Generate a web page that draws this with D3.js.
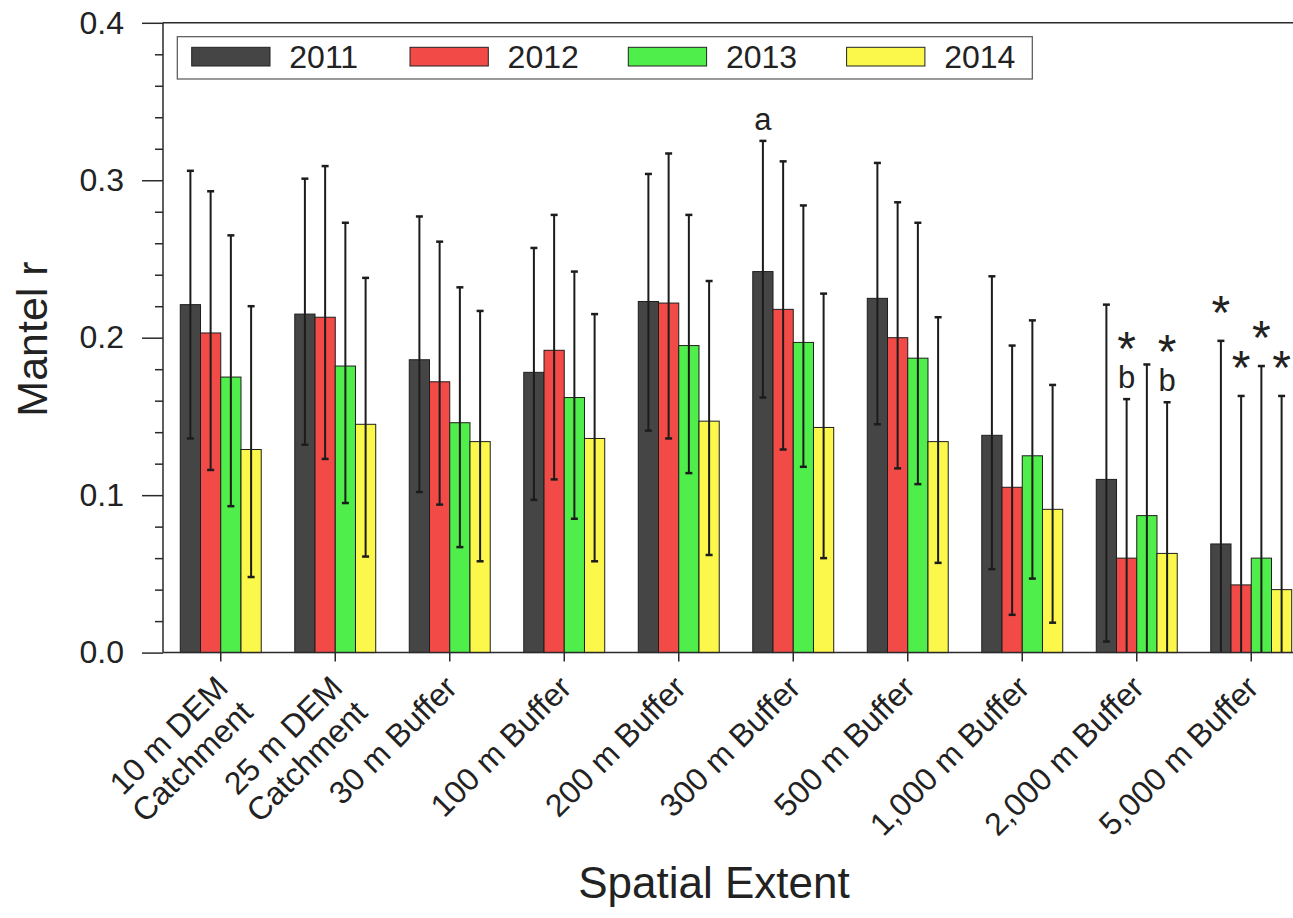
<!DOCTYPE html>
<html>
<head>
<meta charset="utf-8">
<script src="https://cdn.jsdelivr.net/npm/d3@7/dist/d3.min.js"></script>
<style>
  body { margin: 0; background: #fff; }
  svg { display: block; }
  text { font-family: "Liberation Sans", Arial, Helvetica, sans-serif; fill: #222; }
</style>
</head>
<body>
<svg id="chart" width="1293" height="918"></svg>
<script>
// Spatial extents on the x axis (line breaks split long labels)
const categories = [
  "10 m DEM\nCatchment", "25 m DEM\nCatchment", "30 m Buffer", "100 m Buffer",
  "200 m Buffer", "300 m Buffer", "500 m Buffer", "1,000 m Buffer",
  "2,000 m Buffer", "5,000 m Buffer"
];
const years = ["2011", "2012", "2013", "2014"];

// Mantel r per year
const mean2011 = [0.221, 0.215, 0.186, 0.178, 0.223, 0.242, 0.225, 0.138, 0.110, 0.069];
const mean2012 = [0.203, 0.213, 0.172, 0.192, 0.222, 0.218, 0.200, 0.105, 0.060, 0.043];
const mean2013 = [0.175, 0.182, 0.146, 0.162, 0.195, 0.197, 0.187, 0.125, 0.087, 0.060];
const mean2014 = [0.129, 0.145, 0.134, 0.136, 0.147, 0.143, 0.134, 0.091, 0.063, 0.040];

// Upper and lower ends of the error bars
const upper2011 = [0.306, 0.301, 0.277, 0.257, 0.304, 0.325, 0.311, 0.239, 0.221, 0.198];
const lower2011 = [0.136, 0.132, 0.102, 0.097, 0.141, 0.162, 0.145, 0.053, 0.007, 0.000];
const upper2012 = [0.293, 0.309, 0.261, 0.278, 0.317, 0.312, 0.286, 0.195, 0.161, 0.163];
const lower2012 = [0.116, 0.123, 0.094, 0.110, 0.136, 0.129, 0.117, 0.024, 0.000, 0.000];
const upper2013 = [0.265, 0.273, 0.232, 0.242, 0.278, 0.284, 0.273, 0.211, 0.183, 0.182];
const lower2013 = [0.093, 0.095, 0.067, 0.085, 0.114, 0.118, 0.107, 0.047, 0.000, 0.000];
const upper2014 = [0.220, 0.238, 0.217, 0.215, 0.236, 0.228, 0.213, 0.170, 0.159, 0.163];
const lower2014 = [0.048, 0.061, 0.058, 0.058, 0.062, 0.060, 0.057, 0.019, 0.000, 0.000];

const yTicks = [0, 0.1, 0.2, 0.3, 0.4];
const yMinorStep = 0.02;

// Significance letters and asterisks placed over individual bars
const letterMarks = [
  { category: "300 m Buffer", year: "2011", label: "a" },
  { category: "2,000 m Buffer", year: "2012", label: "b" },
  { category: "2,000 m Buffer", year: "2014", label: "b" }
];
const starMarks = [
  { category: "2,000 m Buffer", year: "2012" },
  { category: "2,000 m Buffer", year: "2014" },
  { category: "5,000 m Buffer", year: "2011" },
  { category: "5,000 m Buffer", year: "2012" },
  { category: "5,000 m Buffer", year: "2013" },
  { category: "5,000 m Buffer", year: "2014" }
];

const colors = ["#454545", "#f24b47", "#50ee4b", "#fbf84b"];

// ---- assemble rows ----
const means = [mean2011, mean2012, mean2013, mean2014];
const uppers = [upper2011, upper2012, upper2013, upper2014];
const lowers = [lower2011, lower2012, lower2013, lower2014];
const rows = [];
categories.forEach((c, i) => {
  years.forEach((yr, j) => {
    rows.push({ category: c, year: yr, si: j, value: means[j][i], hi: uppers[j][i], lo: lowers[j][i] });
  });
});
const key = c => c.replace("\n", " ");
const rowFor = (cat, yr) => rows.find(r => key(r.category) === key(cat) && r.year === yr);

const svg = d3.select("#chart");

const x = d3.scaleBand()
  .domain(categories)
  .range([163.5, 1308.5])
  .paddingInner(0.293)
  .paddingOuter(0.1465);
const xs = d3.scaleBand().domain(years).range([0, x.bandwidth()]);
const y = d3.scaleLinear().domain([0, 0.4]).range([652.6, 22.8]);
const color = d3.scaleOrdinal().domain(years).range(colors);

const axisColor = "#2a2a2a";

// ---- bars ----
svg.append("g").selectAll("rect")
  .data(rows)
  .join("rect")
  .attr("x", d => x(d.category) + xs(d.year))
  .attr("y", d => y(d.value))
  .attr("width", xs.bandwidth())
  .attr("height", d => y(0) - y(d.value))
  .attr("fill", d => color(d.year))
  .attr("stroke", "#1e1e1e")
  .attr("stroke-width", 1);

// ---- error bars ----
const cx = d => x(d.category) + xs(d.year) + xs.bandwidth() / 2;
const eb = svg.append("g").attr("stroke", "#1c1c1c");
eb.selectAll("line.stem")
  .data(rows)
  .join("line")
  .attr("class", "stem")
  .attr("x1", cx).attr("x2", cx)
  .attr("y1", d => y(d.hi))
  .attr("y2", d => y(Math.max(d.lo, 0)))
  .attr("stroke-width", 2);
eb.selectAll("line.capHi")
  .data(rows)
  .join("line")
  .attr("class", "capHi")
  .attr("x1", d => cx(d) - 3.5).attr("x2", d => cx(d) + 3.5)
  .attr("y1", d => y(d.hi)).attr("y2", d => y(d.hi))
  .attr("stroke-width", 2.5);
eb.selectAll("line.capLo")
  .data(rows.filter(d => d.lo > 0))
  .join("line")
  .attr("class", "capLo")
  .attr("x1", d => cx(d) - 3.5).attr("x2", d => cx(d) + 3.5)
  .attr("y1", d => y(d.lo)).attr("y2", d => y(d.lo))
  .attr("stroke-width", 2.5);

// ---- axes ----
const yAxis = svg.append("g")
  .attr("transform", `translate(${x.range()[0] - 0.5},0)`)
  .call(d3.axisLeft(y).tickValues(yTicks).tickFormat(d3.format(".1f"))
    .tickSizeInner(21).tickSizeOuter(0).tickPadding(18));
yAxis.select(".domain").remove();
yAxis.selectAll(".tick line").attr("stroke", axisColor).attr("stroke-width", 1.5);
yAxis.selectAll(".tick text").style("font-size", "32px").attr("fill", "#222");

const minorTicks = d3.range(0, 0.4 + 1e-9, yMinorStep)
  .filter(v => yTicks.every(t => Math.abs(t - v) > 1e-9));
const yMinor = svg.append("g")
  .attr("transform", `translate(${x.range()[0] - 0.5},0)`)
  .call(d3.axisLeft(y).tickValues(minorTicks).tickFormat("").tickSizeInner(8).tickSizeOuter(0));
yMinor.select(".domain").remove();
yMinor.selectAll(".tick line").attr("stroke", axisColor).attr("stroke-width", 1.5);

const xAxis = svg.append("g")
  .attr("transform", `translate(0,${y(0)})`)
  .call(d3.axisBottom(x).tickFormat("").tickSizeInner(9).tickSizeOuter(0));
xAxis.select(".domain").remove();
xAxis.selectAll(".tick line").attr("stroke", axisColor).attr("stroke-width", 1.5);

// frame lines: left, top, bottom
const frame = svg.append("g").attr("stroke", axisColor).attr("stroke-width", 1.5).attr("fill", "none");
frame.append("line").attr("x1", x.range()[0] - 0.5).attr("x2", x.range()[0] - 0.5).attr("y1", y(0.4)).attr("y2", y(0));
frame.append("line").attr("x1", x.range()[0] - 0.5).attr("x2", x.range()[1]).attr("y1", y(0.4)).attr("y2", y(0.4));
frame.append("line").attr("x1", x.range()[0] - 0.5).attr("x2", x.range()[1]).attr("y1", y(0)).attr("y2", y(0));

// rotated category labels
const catLabels = svg.append("g").selectAll("g")
  .data(categories)
  .join("g")
  .attr("transform", c => `translate(${x(c) + x.bandwidth() / 2 + 9},${y(0) + 37}) rotate(-45)`);
catLabels.append("text")
  .attr("text-anchor", "end")
  .style("font-size", "32px")
  .selectAll("tspan")
  .data(c => c.split("\n"))
  .join("tspan")
  .attr("x", 0)
  .attr("dy", (d, i) => i === 0 ? 0 : "1.1em")
  .text(d => d);

// axis titles
svg.append("text")
  .attr("transform", "translate(46.7,339) rotate(-90)")
  .attr("text-anchor", "middle")
  .style("font-size", "43px")
  .text("Mantel r");
svg.append("text")
  .attr("x", 714).attr("y", 898)
  .attr("text-anchor", "middle")
  .style("font-size", "44px")
  .text("Spatial Extent");

// ---- legend ----
const legend = svg.append("g");
legend.append("rect")
  .attr("x", 177.3).attr("y", 36.7).attr("width", 855).attr("height", 42.3)
  .attr("fill", "#fff").attr("stroke", "#555").attr("stroke-width", 1.2);
const legendX = d3.scalePoint().domain(years).range([191.7, 191.7 + 3 * 218.3]);
const li = legend.selectAll("g.item").data(years).join("g").attr("class", "item")
  .attr("transform", yr => `translate(${legendX(yr)},0)`);
li.append("rect")
  .attr("x", 0).attr("y", 47.3).attr("width", 78.3).attr("height", 18.7)
  .attr("fill", yr => color(yr)).attr("stroke", "#222").attr("stroke-width", 1);
li.append("text")
  .attr("x", 97.6).attr("y", 68.3)
  .style("font-size", "32px")
  .text(yr => yr);

// ---- significance marks ----
const marks = svg.append("g");
letterMarks.forEach(m => {
  const r = rowFor(m.category, m.year);
  marks.append("text")
    .attr("x", cx(r)).attr("y", y(r.hi) - 22 + 11)
    .attr("text-anchor", "middle")
    .style("font-size", "31px")
    .text(m.label);
});
starMarks.forEach(m => {
  const r = rowFor(m.category, m.year);
  const hasLetter = letterMarks.some(l => key(l.category) === key(m.category) && l.year === m.year);
  const centerY = y(r.hi) - (hasLetter ? 62 : 40);
  marks.append("text")
    .attr("x", cx(r)).attr("y", centerY + 28)
    .attr("text-anchor", "middle")
    .style("font-size", "48px")
    .text("*");
});
</script>
</body>
</html>
